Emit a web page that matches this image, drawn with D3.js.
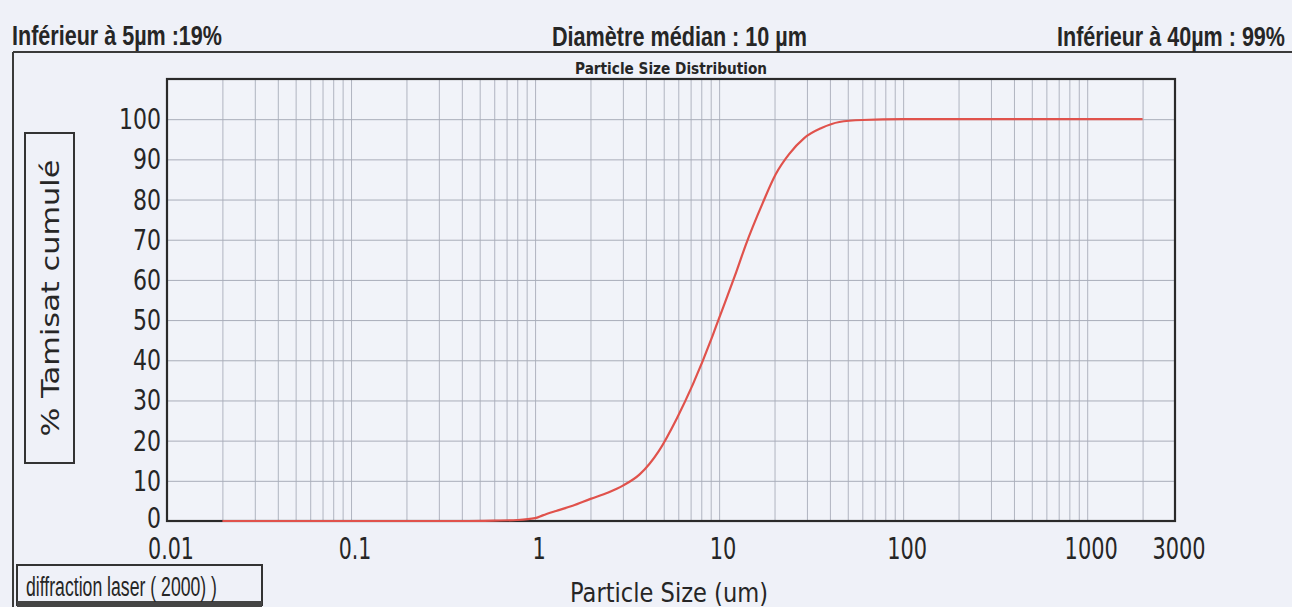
<!DOCTYPE html>
<html><head><meta charset="utf-8">
<script src="https://cdn.jsdelivr.net/npm/d3@7"></script>
<style>
html,body{margin:0;padding:0;background:#eff1f8;}
svg{display:block;}
</style></head>
<body>
<svg id="chart" width="1292" height="607"></svg>
<script>
// ---- data ----
const sizes = [0.02, 0.1, 0.4, 0.6, 0.8, 1.0, 1.1, 1.3, 1.6, 2.0, 2.5, 3.0, 3.7, 4.7, 5.9, 7.2, 9.2, 10, 11.1, 12.4, 13.9, 17.2, 20.3, 24, 29, 36, 45, 60, 100, 500, 2000];
const cumul = [0, 0, 0, 0.1, 0.25, 0.7, 1.4, 2.5, 3.8, 5.5, 7.1, 8.8, 11.6, 17.4, 25.6, 34, 46, 50.5, 56, 62, 68.5, 79, 86.3, 91.3, 95.3, 97.8, 99.3, 99.8, 100, 100, 100];
const xTickValues = [0.01, 0.1, 1, 10, 100, 1000, 3000];
const xTickLabels = ["0.01", "0.1", "1", "10", "100", "1000", "3000"];
const yTickValues = [0, 10, 20, 30, 40, 50, 60, 70, 80, 90, 100];
const yTickLabels = ["0", "10", "20", "30", "40", "50", "60", "70", "80", "90", "100"];
const headerLeft = "Inférieur à 5µm :19%";
const headerMid = "Diamètre médian : 10 µm";
const headerRight = "Inférieur à 40µm : 99%";
const chartTitle = "Particle Size Distribution";
const yTitle = "% Tamisat cumulé";
const xTitle = "Particle Size (um)";
const methodNote = "diffraction laser ( 2000) )";

const svg = d3.select("#chart");
const L = 167, R = 1175, T = 79, B = 521;
const x = d3.scaleLog().domain([0.01, 3000]).range([L, R]);
const y = d3.scaleLinear().domain([0, 110]).range([B, T]);
const ink = "#262626";

svg.append("rect").attr("width", 1292).attr("height", 607).attr("fill", "#eff1f8");

// page frame lines
svg.append("line").attr("x1", 13).attr("x2", 1292).attr("y1", 52).attr("y2", 52)
  .attr("stroke", "#3a3a3a").attr("stroke-width", 2);
svg.append("line").attr("x1", 13).attr("x2", 13).attr("y1", 52).attr("y2", 607)
  .attr("stroke", "#3a3a3a").attr("stroke-width", 2);

function condText(txt, xPos, yPos, width, size, weight, anchor, family) {
  return svg.append("text").attr("x", xPos).attr("y", yPos)
    .attr("font-family", family || "'Liberation Sans', Arial, sans-serif")
    .attr("font-size", size).attr("font-weight", weight || "normal")
    .attr("fill", ink).attr("text-anchor", anchor || "start")
    .attr("textLength", width).attr("lengthAdjust", "spacingAndGlyphs")
    .text(txt);
}
// headers: narrow bold, stretched vertically like the scan
function header(txt, xPos, yPos, width, anchor) {
  svg.append("text").attr("transform", `translate(${xPos},${yPos}) scale(1,1.27)`)
    .attr("font-family", "'Liberation Sans', Arial, sans-serif")
    .attr("font-size", 21.5).attr("font-weight", "bold")
    .attr("fill", ink).attr("text-anchor", anchor)
    .attr("textLength", width).attr("lengthAdjust", "spacingAndGlyphs")
    .text(txt);
}
header(headerLeft, 12, 45, 210, "start");
header(headerMid, 552, 46, 255, "start");
header(headerRight, 1285, 46, 228, "end");
condText(chartTitle, 671, 74, 192, 15, "bold", "middle", "Tahoma, 'DejaVu Sans', sans-serif");

// plot background
svg.append("rect").attr("x", L).attr("y", T).attr("width", R - L).attr("height", B - T)
  .attr("fill", "#f1f3f9");

// vertical grid (log minor lines)
const gridX = [];
for (let e = -2; e <= 3; e++) {
  for (let m = 1; m <= 9; m++) {
    const v = m * Math.pow(10, e);
    if (v > 0.01 * 1.0001 && v < 3000 * 0.9999) gridX.push(v);
  }
}
const gx = svg.append("g").attr("transform", `translate(0,${B})`)
  .call(d3.axisBottom(x).tickValues(gridX).tickSize(-(B - T)).tickFormat(""));
gx.select(".domain").remove();
gx.selectAll("line").attr("stroke", "#b0b4c0").attr("stroke-width", 1);

// horizontal grid
const gy = svg.append("g").attr("transform", `translate(${L},0)`)
  .call(d3.axisLeft(y).tickValues(yTickValues.filter(v => v > 0)).tickSize(-(R - L)).tickFormat(""));
gy.select(".domain").remove();
gy.selectAll("line").attr("stroke", "#a9adb9").attr("stroke-width", 1);

// plot border
svg.append("rect").attr("x", L).attr("y", T).attr("width", R - L).attr("height", B - T)
  .attr("fill", "none").attr("stroke", "#2a2a2a").attr("stroke-width", 2.2);

// curve
const pts = sizes.map((s, i) => [s, cumul[i]]);
svg.append("path").datum(pts)
  .attr("fill", "none").attr("stroke", "#e0524c").attr("stroke-width", 2.2)
  .attr("d", d3.line().x(d => x(d[0])).y(d => y(d[1])).curve(d3.curveMonotoneX));

// y tick labels
const tickFont = "Tahoma, 'DejaVu Sans', Verdana, sans-serif";
yTickValues.forEach((v, i) => {
  const t = yTickLabels[i];
  svg.append("text").attr("x", 161).attr("y", y(v) + (v === 0 ? 7 : 10))
    .attr("font-family", tickFont).attr("font-size", 29).attr("fill", ink)
    .attr("text-anchor", "end")
    .attr("textLength", t.length * 14).attr("lengthAdjust", "spacingAndGlyphs")
    .text(t);
});

// x tick labels
xTickValues.forEach((v, i) => {
  const t = xTickLabels[i];
  const w = t.replace(".", "").length * 13.3 + (t.includes(".") ? 6 : 0);
  svg.append("text").attr("x", x(v) + 4).attr("y", 559)
    .attr("font-family", tickFont).attr("font-size", 30).attr("fill", ink)
    .attr("text-anchor", "middle")
    .attr("textLength", w).attr("lengthAdjust", "spacingAndGlyphs")
    .text(t);
});

// y title with box
svg.append("rect").attr("x", 25).attr("y", 133).attr("width", 49).attr("height", 330)
  .attr("fill", "none").attr("stroke", "#333").attr("stroke-width", 2);
svg.append("text").attr("transform", "translate(59,298) rotate(-90)")
  .attr("font-family", "Verdana, 'DejaVu Sans', sans-serif").attr("font-size", 24)
  .attr("fill", ink).attr("text-anchor", "middle")
  .attr("textLength", 277).attr("lengthAdjust", "spacingAndGlyphs")
  .text(yTitle);

// x title
svg.append("text").attr("x", 669).attr("y", 602)
  .attr("font-family", tickFont).attr("font-size", 27).attr("fill", ink)
  .attr("text-anchor", "middle")
  .attr("textLength", 198).attr("lengthAdjust", "spacingAndGlyphs")
  .text(xTitle);

// method note box
svg.append("rect").attr("x", 17).attr("y", 565).attr("width", 245).attr("height", 40)
  .attr("fill", "none").attr("stroke", "#333").attr("stroke-width", 2);
svg.append("rect").attr("x", 17).attr("y", 601).attr("width", 245).attr("height", 6)
  .attr("fill", "#444");
condText(methodNote, 26, 596, 191, 27, "normal");
</script>
</body></html>
